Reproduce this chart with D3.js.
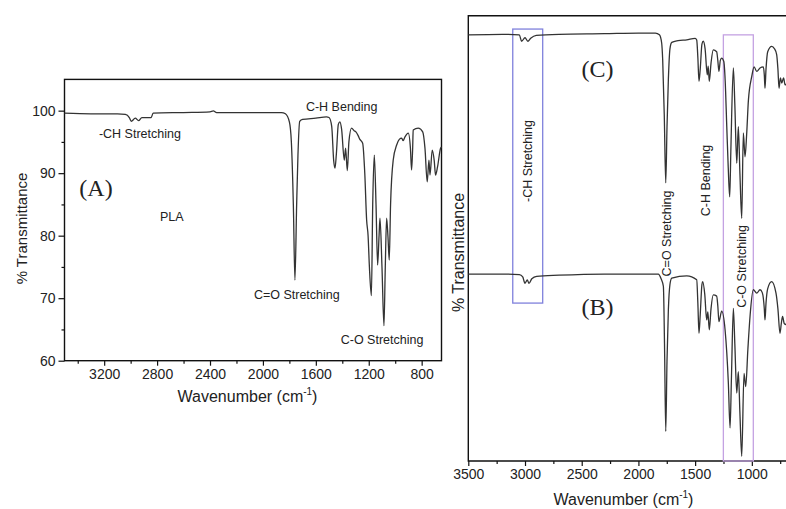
<!DOCTYPE html>
<html>
<head>
<meta charset="utf-8">
<script src="https://cdn.jsdelivr.net/npm/d3@7"></script>
<style>
  body { margin: 0; background: #fff; }
  svg { display: block; font-family: "Liberation Sans", Arial, sans-serif; }
</style>
</head>
<body>
<div id="chart"></div>
<script>
// ---- data ----
// panel (A): PLA spectrum, wavenumber (cm-1) / % transmittance
var waveA = [3500,3300,3100,3040,3010,2995,2965,2940,2915,2880,2845,2830,2600,2400,2375,2350,2000,1860,1830,1800,1785,1770,1758,1745,1735,1722,1700,1600,1520,1500,1480,1465,1455,1445,1430,1418,1405,1385,1375,1362,1350,1330,1310,1297,1280,1267,1246,1230,1216,1205,1195,1180,1170,1158,1145,1133,1122,1115,1100,1085,1075,1065,1055,1045,1035,1015,989,969,951,940,926,901,885,876,868,864,826,792,775,758,745,737,720,705,695,680,657,650];
var transA = [99.6,99.5,99.5,99.4,98.9,98.3,98.8,98.4,98.9,98.9,98.9,99.6,99.7,99.8,99.95,99.7,99.7,99.7,99.5,98.2,95,85,72.9,85,93,98.3,98.6,98.8,99.0,98.9,97.5,92,90.8,93,97.8,98.2,97,92.1,94,90.4,95,97.2,96.8,96.6,96,95.4,94.8,90,82.5,80,75,70.4,85,92.9,85,75.3,80,82.8,75,65.6,75,82.8,80,76.1,85,92.1,94.5,95.4,95.6,95.2,95.8,96.4,94,90.5,94,96.9,97.2,96.6,94,88.6,92.1,89.7,93.7,92,89.7,91,94,94.2];

// panel (C) spectrum
var waveC = [3500,3200,3050,3030,3000,2975,2950,2900,2700,2300,2000,1850,1815,1795,1786,1772,1759,1748,1736,1722,1706,1650,1574,1500,1486,1476,1466,1455,1440,1428,1412,1393,1385,1375,1360,1340,1310,1300,1290,1278,1266,1247,1235,1221,1208,1195,1185,1163,1150,1133,1119,1105,1089,1075,1060,1045,1030,1001,980,957,928,899,890,884,875,860,825,800,781,770,760,748,736,720,707,690];
var transC = [99.9,100,99.9,98.8,99.4,98.8,99.3,99.8,100,100.1,100.2,100.2,99.9,98.5,95.6,86,74.4,84,92.2,97.5,98.6,98.9,99.05,99.3,99.0,96,91.9,94,98.3,98.8,97.5,93.0,94.5,91.9,95,97.3,97.0,95.5,93.6,95.5,95.9,95.3,92,84.1,77,72.0,80,94.2,88,77.8,84.1,76,68.3,83.0,78.9,83,88.7,92.7,94.4,93.6,94.2,94.4,93,90.7,94,97,97.9,97.5,96.5,94,90.7,92.5,91.6,92.5,91.3,91.5];

// panel (B) spectrum
var waveB = [3500,3200,3050,3020,3000,2980,2965,2940,2897,2700,2300,1825,1800,1780,1770,1759,1748,1736,1722,1706,1574,1486,1476,1466,1455,1440,1433,1415,1398,1388,1375,1360,1340,1310,1300,1290,1266,1236,1207,1192,1180,1163,1150,1133,1119,1105,1089,1069,1054,1035,1016,987,957,928,908,890,884,875,860,825,787,770,752,740,729,715,703,690];
var transB = [100,100,99.9,99.5,98.4,99.0,98.4,99.2,99.6,99.8,100,100,99.2,97.9,88,72.9,85,93.8,98.2,99.3,99.7,99.0,95,89.8,93,98.2,98.7,96.5,92.1,93.5,90.4,94,96.4,96.2,94.5,91.8,93.6,90.4,81.2,73.5,82,94.1,88,79.5,83.2,76,68.6,82.9,80.6,87,92.7,97.3,96.7,97.3,96.8,94,92.1,95,97.5,98.7,96.7,94,89.8,91.5,92.7,91.5,91.3,91.8];
var offsetC = 0, offsetB = -41.3;

// text
var panelLabelsA = [
  {t: "-CH Stretching", wn: 3240, v: 95.7},
  {t: "C-H Bending", wn: 1675, v: 100.0},
  {t: "C=O Stretching", wn: 2068, v: 69.9},
  {t: "C-O Stretching", wn: 1412, v: 62.7},
  {t: "PLA", wn: 2778, v: 82.4}
];
var ticksA_x = [3200, 2800, 2400, 2000, 1600, 1200, 800];
var ticksA_y = [60, 70, 80, 90, 100];
var ticksR_x = [3500, 3000, 2500, 2000, 1500, 1000];
// highlight boxes: [wn1, wn2, top T, bottom T]
var boxCH = [3108, 2844, 100.9, 53.7];
var boxCO = [1251, 987, 99.9, 26.5];

var W = 786, H = 509;
var svg = d3.select("#chart").append("svg").attr("width", W).attr("height", H);
var ink = "#222";

// ---------------- panel A ----------------
var xA = d3.scaleLinear().domain([3500, 650]).range([64.5, 441.5]);
var yA = d3.scaleLinear().domain([60, 105]).range([360.7, 79.4]);

var gA = svg.append("g");
gA.append("rect").attr("x", xA(3500)).attr("y", yA(105))
  .attr("width", xA(650) - xA(3500)).attr("height", yA(60) - yA(105))
  .attr("fill", "none").attr("stroke", "#111").attr("stroke-width", 1.4);

gA.append("g").attr("transform", "translate(0," + yA(60) + ")")
  .call(d3.axisBottom(xA).tickValues(ticksA_x).tickSize(5).tickSizeOuter(0).tickFormat(d3.format("d")));
gA.append("g").attr("transform", "translate(0," + yA(60) + ")")
  .call(d3.axisBottom(xA).tickValues(d3.range(3400, 649, -400)).tickSize(3).tickFormat(""));
gA.append("g").attr("transform", "translate(" + xA(3500) + ",0)")
  .call(d3.axisLeft(yA).tickValues(ticksA_y).tickSize(6).tickSizeOuter(0).tickPadding(3));
gA.append("g").attr("transform", "translate(" + xA(3500) + ",0)")
  .call(d3.axisLeft(yA).tickValues([65, 75, 85, 95]).tickSize(3).tickFormat(""));
gA.selectAll(".domain").remove();
gA.selectAll(".tick line").attr("stroke", "#111").attr("stroke-width", 1.2);
gA.selectAll(".tick text").attr("font-size", 14).attr("fill", ink)
  .attr("font-family", "Liberation Sans, Arial, sans-serif");

var lineA = d3.line().x(function (d) { return xA(d[0]); }).y(function (d) { return yA(d[1]); })
  .curve(d3.curveMonotoneX);
gA.append("path").datum(d3.zip(waveA, transA)).attr("d", lineA)
  .attr("fill", "none").attr("stroke", "#333").attr("stroke-width", 1.3);

gA.selectAll(".lbl").data(panelLabelsA).enter().append("text")
  .attr("x", function (d) { return xA(d.wn); }).attr("y", function (d) { return yA(d.v); })
  .attr("font-size", 12.5).attr("fill", ink).text(function (d) { return d.t; });

gA.append("text").attr("x", 96).attr("y", 196).attr("text-anchor", "middle")
  .attr("font-family", "Liberation Serif, Times New Roman, serif").attr("font-size", 24)
  .attr("fill", ink).text("(A)");

gA.append("text").attr("transform", "translate(27,228.5) rotate(-90)").attr("text-anchor", "middle")
  .attr("font-size", 15).attr("fill", ink).text("% Transmittance");
var tA = gA.append("text").attr("x", 247.5).attr("y", 402).attr("text-anchor", "middle")
  .attr("font-size", 16).attr("fill", ink);
tA.append("tspan").text("Wavenumber (cm");
tA.append("tspan").attr("font-size", 10).attr("dy", -7).text("-1");
tA.append("tspan").attr("dy", 7).text(")");

// ---------------- right panel (C) / (B) ----------------
var xR = d3.scaleLinear().domain([3500, 600]).range([468.3, 797.2]);
var yR = d3.scaleLinear().domain([26.5, 103.2]).range([461, 15.7]);
var gR = svg.append("g");

// frame: left, top, bottom
gR.append("path")
  .attr("d", "M" + xR(600) + "," + yR(103.2) + "H" + xR(3500) + "V" + yR(26.5) + "H" + xR(600))
  .attr("fill", "none").attr("stroke", "#111").attr("stroke-width", 1.4);

gR.append("g").attr("transform", "translate(0," + yR(26.5) + ")")
  .call(d3.axisBottom(xR).tickValues(ticksR_x).tickSize(5).tickSizeOuter(0).tickFormat(d3.format("d")));
gR.append("g").attr("transform", "translate(0," + yR(26.5) + ")")
  .call(d3.axisBottom(xR).tickValues([3250, 2750, 2250, 1750, 1250, 750]).tickSize(3).tickFormat(""));
gR.selectAll(".domain").remove();
gR.selectAll(".tick line").attr("stroke", "#111").attr("stroke-width", 1.2);
gR.selectAll(".tick text").attr("font-size", 14).attr("fill", ink)
  .attr("font-family", "Liberation Sans, Arial, sans-serif");

// highlight boxes
[[boxCH, "#7f80dc"], [boxCO, "#c4a2e2"]].forEach(function (b) {
  var r = b[0];
  gR.append("rect").attr("x", xR(r[0])).attr("y", yR(r[2]))
    .attr("width", xR(r[1]) - xR(r[0])).attr("height", yR(r[3]) - yR(r[2]))
    .attr("fill", "none").attr("stroke", b[1]).attr("stroke-width", 1.3);
});

function lineR(off) {
  return d3.line().x(function (d) { return xR(d[0]); }).y(function (d) { return yR(d[1] + off); })
    .curve(d3.curveMonotoneX);
}
gR.append("path").datum(d3.zip(waveC, transC)).attr("d", lineR(offsetC))
  .attr("fill", "none").attr("stroke", "#333").attr("stroke-width", 1.3);
gR.append("path").datum(d3.zip(waveB, transB)).attr("d", lineR(offsetB))
  .attr("fill", "none").attr("stroke", "#333").attr("stroke-width", 1.3);

// vertical labels
var vLabels = [
  {t: "-CH Stretching", x: 527.5, y: 161},
  {t: "C=O Stretching", x: 666, y: 233.5},
  {t: "C-H Bending", x: 705, y: 180.5},
  {t: "C-O Stretching", x: 741.5, y: 266.5}
];
gR.selectAll(".vl").data(vLabels).enter().append("text")
  .attr("transform", function (d) { return "translate(" + (d.x + 4.5) + "," + d.y + ") rotate(-90)"; })
  .attr("text-anchor", "middle").attr("font-size", 12.5).attr("fill", ink)
  .text(function (d) { return d.t; });

gR.append("text").attr("x", 597.5).attr("y", 76.5).attr("text-anchor", "middle")
  .attr("font-family", "Liberation Serif, Times New Roman, serif").attr("font-size", 24)
  .attr("fill", ink).text("(C)");
gR.append("text").attr("x", 597.5).attr("y", 315).attr("text-anchor", "middle")
  .attr("font-family", "Liberation Serif, Times New Roman, serif").attr("font-size", 24)
  .attr("fill", ink).text("(B)");

gR.append("text").attr("transform", "translate(464,252.5) rotate(-90)").attr("text-anchor", "middle")
  .attr("font-size", 16).attr("fill", ink).text("% Transmittance");
var tR = gR.append("text").attr("x", 623.5).attr("y", 505).attr("text-anchor", "middle")
  .attr("font-size", 16).attr("fill", ink);
tR.append("tspan").text("Wavenumber (cm");
tR.append("tspan").attr("font-size", 10).attr("dy", -7).text("-1");
tR.append("tspan").attr("dy", 7).text(")");
</script>
</body>
</html>
